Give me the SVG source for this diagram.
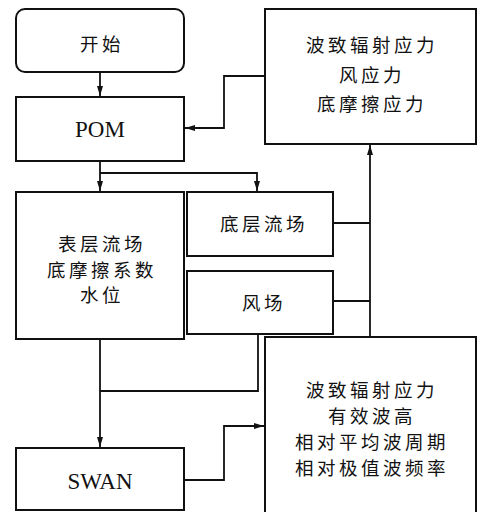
<svg xmlns="http://www.w3.org/2000/svg" width="480" height="512" viewBox="0 0 480 512">
<style>
.box{fill:#fff;stroke:#111;stroke-width:2}
.ln{fill:none;stroke:#111;stroke-width:1.8}
.cn{font-family:"Noto Sans CJK SC","Noto Sans CJK JP",serif;font-size:18.5px;letter-spacing:3.5px;fill:#111;text-anchor:middle;dominant-baseline:central}
.en{font-family:"Liberation Serif","Times New Roman",serif;font-size:23px;fill:#111;text-anchor:middle;dominant-baseline:central}
</style>
<defs>
<marker id="ah" viewBox="0 0 10 6" refX="10" refY="3" markerWidth="10" markerHeight="6" markerUnits="userSpaceOnUse" orient="auto">
<path d="M0,0 L10,3 L0,6 Z" fill="#111"/>
</marker>
</defs>
<g id="connectors">
<path class="ln" d="M100,72 V96" marker-end="url(#ah)"/>
<path class="ln" d="M265,76 H224 V128 H185" marker-end="url(#ah)"/>
<path class="ln" d="M100,161 V191" marker-end="url(#ah)"/>
<path class="ln" d="M100,173 H257 V191" marker-end="url(#ah)"/>
<path class="ln" d="M333,223 H370"/>
<path class="ln" d="M333,301 H370"/>
<path class="ln" d="M370,337 V145" marker-end="url(#ah)"/>
<path class="ln" d="M100,339 V447" marker-end="url(#ah)"/>
<path class="ln" d="M258,334 V391 H100"/>
<path class="ln" d="M184,480 H224 V426 H264" marker-end="url(#ah)"/>
</g>
<g id="start">
<rect class="box" x="16" y="9" width="168" height="63" rx="9"/>
<text class="cn" x="102" y="43">开始</text>
</g>
<g id="pom">
<rect class="box" x="16" y="97" width="168" height="64"/>
<text class="en" x="100" y="129">POM</text>
</g>
<g id="forces">
<rect class="box" x="265" y="9" width="211" height="135"/>
<text class="cn" x="372" y="44">波致辐射应力</text>
<text class="cn" x="372" y="74">风应力</text>
<text class="cn" x="372" y="103">底摩擦应力</text>
</g>
<g id="surface">
<rect class="box" x="16" y="192" width="168" height="147"/>
<text class="cn" x="102" y="243">表层流场</text>
<text class="cn" x="102" y="269">底摩擦系数</text>
<text class="cn" x="102" y="294">水位</text>
</g>
<g id="bottomflow">
<rect class="box" x="187" y="192" width="146" height="64"/>
<text class="cn" x="264" y="223">底层流场</text>
</g>
<g id="wind">
<rect class="box" x="187" y="271" width="146" height="63"/>
<text class="cn" x="264" y="302">风场</text>
</g>
<g id="waveout">
<rect class="box" x="265" y="337" width="211" height="180"/>
<text class="cn" x="372" y="389">波致辐射应力</text>
<text class="cn" x="372" y="415">有效波高</text>
<text class="cn" x="372" y="441">相对平均波周期</text>
<text class="cn" x="372" y="467">相对极值波频率</text>
</g>
<g id="swan">
<rect class="box" x="16" y="448" width="168" height="62"/>
<text class="en" x="100" y="481">SWAN</text>
</g>
</svg>
